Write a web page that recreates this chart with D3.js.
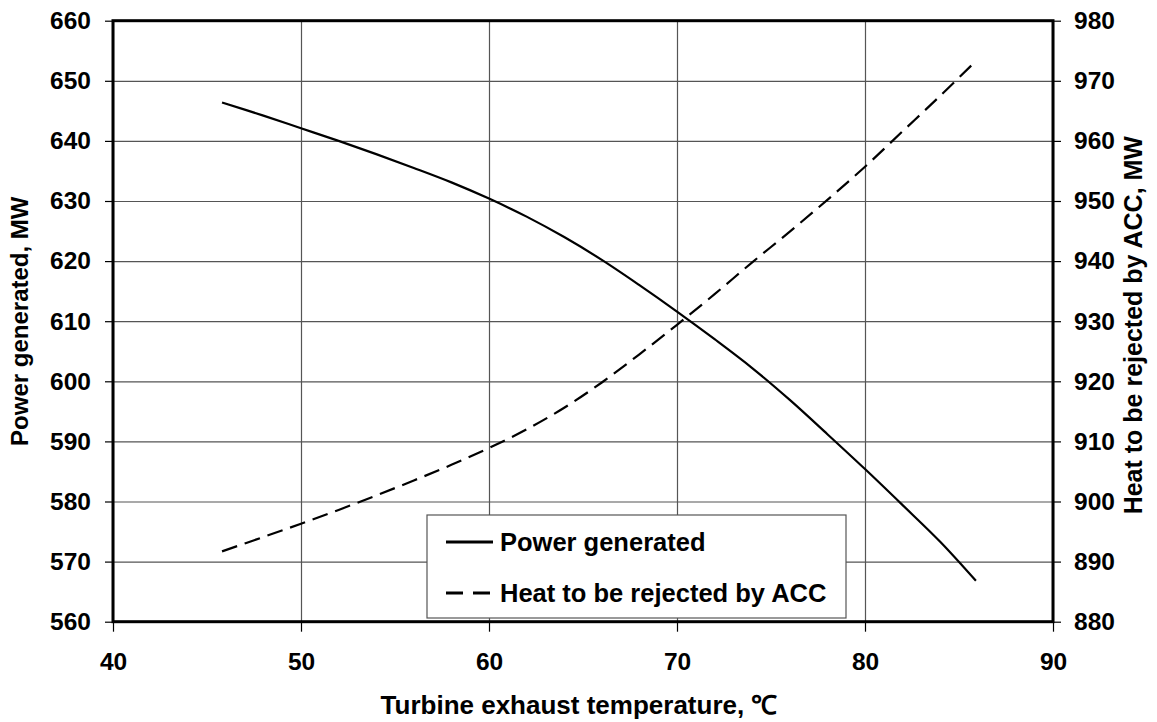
<!DOCTYPE html>
<html>
<head>
<meta charset="utf-8">
<script src="https://cdn.jsdelivr.net/npm/d3@7"></script>
<style>
	body { margin: 0; background: #fff; }
	svg { display: block; font-family: "Liberation Sans", Arial, sans-serif; font-weight: bold; }
	.grid line { stroke: #555; stroke-width: 1.2; }
	.grid .domain { display: none; }
	.axis text { font-size: 24.5px; fill: #000; }
	.axis .domain { display: none; }
	.axis line { stroke: #000; stroke-width: 1.2; }
</style>
</head>
<body>
<svg id="svg1" width="1157" height="722"></svg>
<script>
// Turbine exhaust temperature, degC
var temps = [45.8, 48, 50, 52, 54, 56, 58, 60, 62, 64, 66, 68, 70, 72, 74, 76, 78, 80, 82, 84, 85.9];
// Power generated, MW (left axis)
var power = [646.4, 644.2, 642.1, 640.0, 637.8, 635.5, 633.1, 630.4, 627.4, 624.0, 620.2, 616.0, 611.6, 607.0, 602.2, 596.9, 591.2, 585.4, 579.4, 573.3, 566.8];
// Heat to be rejected by ACC, MW (right axis)
var heat = [891.7, 894.1, 896.3, 898.6, 901.0, 903.5, 906.1, 908.9, 912.0, 915.6, 919.8, 924.5, 929.4, 934.5, 939.8, 944.9, 950.2, 955.7, 961.6, 967.5, 973.3];

var xTicks = [40, 50, 60, 70, 80, 90];
var yLeftTicks = [560, 570, 580, 590, 600, 610, 620, 630, 640, 650, 660];
var yRightTicks = [880, 890, 900, 910, 920, 930, 940, 950, 960, 970, 980];

var svg1 = d3.select("#svg1"),
	margin = {top: 20.7, right: 104, bottom: 100.3, left: 113},
	width = +svg1.attr("width") - margin.left - margin.right,
	height = +svg1.attr("height") - margin.top - margin.bottom,
	g1 = svg1.append("g").attr("transform", "translate(" + margin.left + "," + margin.top + ")");

var x = d3.scaleLinear().domain([40, 90]).range([0, width]);
var y = d3.scaleLinear().domain([560, 660]).range([height, 0]);
var y2 = d3.scaleLinear().domain([880, 980]).range([height, 0]);

// grid lines
g1.append("g")
	.attr("class", "grid")
	.attr("transform", "translate(0," + height + ")")
	.call(d3.axisBottom(x).tickValues(xTicks).tickSize(-height).tickFormat(""));

g1.append("g")
	.attr("class", "grid")
	.call(d3.axisLeft(y).tickValues(yLeftTicks).tickSize(-width).tickFormat(""));

// axes
g1.append("g")
	.attr("class", "axis")
	.attr("transform", "translate(0," + height + ")")
	.call(d3.axisBottom(x).tickValues(xTicks).tickSize(10).tickPadding(21));

g1.append("g")
	.attr("class", "axis")
	.call(d3.axisLeft(y).tickValues(yLeftTicks).tickSize(8).tickPadding(14));

g1.append("g")
	.attr("class", "axis")
	.attr("transform", "translate(" + width + ",0)")
	.call(d3.axisRight(y2).tickValues(yRightTicks).tickSize(8).tickPadding(13));

// curves
var powerLine = d3.line()
	.x(function(d, i) { return x(temps[i]); })
	.y(function(d) { return y(d); })
	.curve(d3.curveCatmullRom);

var heatLine = d3.line()
	.x(function(d, i) { return x(temps[i]); })
	.y(function(d) { return y2(d); })
	.curve(d3.curveCatmullRom);

g1.append("path")
	.datum(power)
	.attr("fill", "none")
	.attr("stroke", "#000")
	.attr("stroke-width", 2.2)
	.attr("d", powerLine);

g1.append("path")
	.datum(heat)
	.attr("fill", "none")
	.attr("stroke", "#000")
	.attr("stroke-width", 2.2)
	.attr("stroke-dasharray", "16,8")
	.attr("d", heatLine);

// legend
var legend = g1.append("g")
	.attr("transform", "translate(" + (427 - margin.left) + "," + (515 - margin.top) + ")");

legend.append("rect")
	.attr("width", 419)
	.attr("height", 103)
	.attr("fill", "#fff")
	.attr("stroke", "#555")
	.attr("stroke-width", 1.2);

var items = [
	{name: "Power generated", dash: null},
	{name: "Heat to be rejected by ACC", dash: "17,10"}
];

var row = legend.selectAll(".item")
	.data(items)
	.enter().append("g")
	.attr("class", "item")
	.attr("transform", function(d, i) { return "translate(0," + (27 + i * 51) + ")"; });

row.append("line")
	.attr("x1", 19)
	.attr("x2", 66)
	.attr("stroke", "#000")
	.attr("stroke-width", 3)
	.attr("stroke-dasharray", function(d) { return d.dash; });

row.append("text")
	.attr("x", 73)
	.attr("y", 8.5)
	.attr("font-size", 25.5)
	.text(function(d) { return d.name; });

// frame
g1.append("rect")
	.attr("width", width)
	.attr("height", height)
	.attr("fill", "none")
	.attr("stroke", "#000")
	.attr("stroke-width", 3);

// axis titles
svg1.append("text")
	.attr("x", 579)
	.attr("y", 714)
	.attr("text-anchor", "middle")
	.attr("font-size", 26)
	.text("Turbine exhaust temperature, \u2103");

svg1.append("text")
	.attr("transform", "translate(28," + (margin.top + height / 2) + ") rotate(-90)")
	.attr("text-anchor", "middle")
	.attr("font-size", 24)
	.text("Power generated, MW");

svg1.append("text")
	.attr("transform", "translate(1142," + (margin.top + height / 2 + 4) + ") rotate(-90)")
	.attr("text-anchor", "middle")
	.attr("font-size", 25)
	.text("Heat to be rejected by ACC, MW");
</script>
</body>
</html>
